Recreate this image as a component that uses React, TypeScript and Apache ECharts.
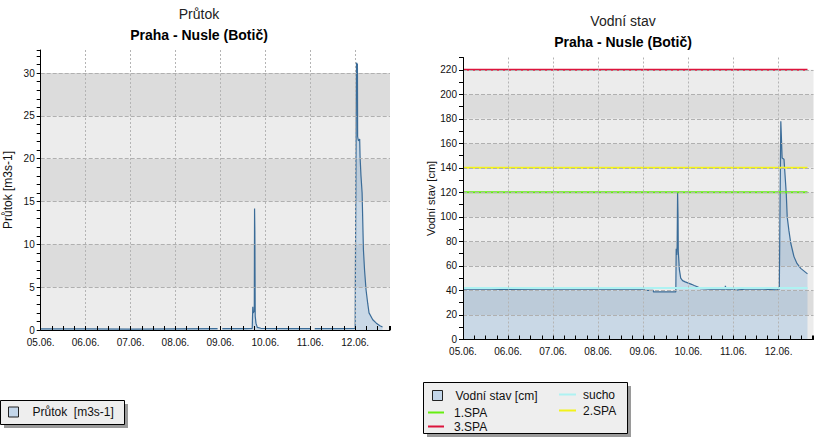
import React, { useEffect, useRef } from 'react';
import * as echarts from 'echarts';

// X axis: hours since 05.06. 00:00
const dayLabels = ['05.06.', '06.06.', '07.06.', '08.06.', '09.06.', '10.06.', '11.06.', '12.06.'];

const flowName = 'Průtok  [m3s-1]';
const flowHours = [0, 24, 48, 72, 94.5, 95, 97, 110, 113.0, 113.3, 113.5, 114.1, 114.25, 114.4, 114.6, 115.0, 115.7, 117.6, 132, 144.2, 145, 146.4, 160, 168, 168.15, 168.7, 169.2, 169.3, 169.7, 170.4, 170.6, 171.1, 171.7, 172.4, 173.0, 173.8, 174.7, 175.4, 177.4, 179.3, 181.2, 182.6];
const flowValues = [0.12, 0.12, 0.1, 0.12, 0.15, null, 0.15, 0.15, 0.2, 2.7, 2.0, 2.2, 14.2, 11.5, 1.6, 0.8, 0.3, 0.2, 0.15, 0.15, null, 0.15, 0.15, 0.2, 7.8, 31.2, 31.0, 22.6, 22.1, 22.3, 20.3, 18, 16.0, 9.4, 7.0, 4.7, 3.1, 2.0, 1.2, 0.8, 0.5, 0.35];

const stageName = 'Vodní stav [cm]';
const stageHours = [0, 10, 20, 40, 60, 80, 96, 97, 101.3, 101.4, 113.3, 113.5, 113.8, 114.0, 114.25, 114.5, 114.6, 115.0, 115.2, 115.9, 116.9, 118.3, 120, 121.7, 123.1, 124.8, 126.5, 132, 139.5, 139.7, 140, 144.5, 145, 146.5, 150, 160, 167, 168.4, 168.7, 169.2, 169.9, 170.9, 172.1, 172.6, 173.5, 174.5, 176.2, 177.8, 179.8, 183.4];
const stageValues = [41, 41.2, 40.8, 41, 41, 41.2, 41, 40, 40, 38.8, 38.8, 74, 69, 76, 120, 98, 72, 62, 57, 50, 48, 47, 46, 45, 44, 43, 41.5, 41, 41, 43.7, 41, 41, 40, 40.5, 41, 41, 40.5, 41, 95, 178, 148, 147, 119, 100, 89, 78.5, 67.6, 62, 58, 53.5];

const thresholdNames = ['sucho', '1.SPA', '2.SPA', '3.SPA'];
const thresholdValues = [42, 120, 140, 220];
const thresholdColors = ['#aef2f2', '#66ee11', '#f2f21a', '#dc143c'];

const flowBandEdges = [0, 5, 10, 15, 20, 25, 30];
const stageBandEdges = [0, 20, 40, 60, 80, 100, 120, 140, 160, 180, 200, 220];

const X_MAX = 186.6;
const FONT = "'Liberation Sans', Arial, sans-serif";
const FILL = 'rgba(70,140,210,0.3)';

function bands(edges: number[]) {
  return edges.slice(0, -1).map((lo, i) => [
    { yAxis: lo, itemStyle: { color: i % 2 ? '#dcdcdc' : '#ececec' } },
    { yAxis: edges[i + 1] },
  ]);
}

function xAxisCfg(gridIndex: number) {
  return {
    type: 'value',
    gridIndex,
    min: 0,
    max: X_MAX,
    interval: 24,
    z: 5,
    axisLine: { lineStyle: { color: '#000', width: 1 } },
    axisTick: { inside: true, length: 4, lineStyle: { color: '#000' } },
    minorTick: { show: true, splitNumber: 4, length: 4, lineStyle: { color: '#000' } },
    axisLabel: {
      margin: 7,
      fontSize: 10,
      color: '#111',
      fontFamily: FONT,
      showMaxLabel: false,
      formatter: (v: number) => (v % 24 === 0 ? dayLabels[v / 24] ?? '' : ''),
    },
    splitLine: { show: true, showMaxLine: false, showMinLine: false, lineStyle: { color: '#b4b4b4', type: [2, 2], width: 1 } },
  };
}

function yAxisCfg(gridIndex: number, max: number, interval: number, minor: number, name: string, nameSize: number) {
  return {
    type: 'value',
    gridIndex,
    min: 0,
    max,
    interval,
    z: 5,
    name,
    nameLocation: 'middle',
    nameGap: 27,
    nameTextStyle: { fontSize: nameSize, color: '#111', fontFamily: FONT },
    axisLine: { show: true, lineStyle: { color: '#000', width: 1 } },
    axisTick: { show: true, length: 4, lineStyle: { color: '#000' } },
    minorTick: { show: true, splitNumber: minor, length: 4, lineStyle: { color: '#000' } },
    axisLabel: {
      margin: 6,
      fontSize: 10,
      color: '#111',
      fontFamily: FONT,
      showMaxLabel: false,
      formatter: (v: number) => (v % interval === 0 ? String(v) : ''),
    },
    splitLine: { show: true, showMaxLine: false, showMinLine: false, lineStyle: { color: '#b0b0b0', type: [4, 2], width: 1 } },
  };
}

export default function App() {
  const ref = useRef<HTMLDivElement>(null);
  useEffect(() => {
    if (!ref.current) return;
    const chart = echarts.init(ref.current, null, { renderer: 'svg' });
    const lastStage = stageHours[stageHours.length - 1];
    const series: any[] = [
      {
        type: 'line', name: 'bands0', xAxisIndex: 0, yAxisIndex: 0, data: [], z: 1, silent: true,
        markArea: { silent: true, label: { show: false }, data: bands(flowBandEdges) },
      },
      {
        type: 'line', name: 'bands1', xAxisIndex: 1, yAxisIndex: 1, data: [], z: 1, silent: true,
        markArea: { silent: true, label: { show: false }, data: bands(stageBandEdges) },
      },
      {
        type: 'line', name: flowName, xAxisIndex: 0, yAxisIndex: 0, z: 2,
        data: flowHours.map((h, i) => [h, flowValues[i]]),
        showSymbol: false, symbol: 'none', connectNulls: false,
        itemStyle: { color: '#c3d6ea' },
        lineStyle: { color: '#3b6c98', width: 1.2 },
        areaStyle: { color: FILL, origin: 'start' },
      },
      {
        type: 'line', name: stageName, xAxisIndex: 1, yAxisIndex: 1, z: 2,
        data: stageHours.map((h, i) => [h, stageValues[i]]),
        showSymbol: false, symbol: 'none',
        itemStyle: { color: '#c3d6ea' },
        lineStyle: { color: '#3b6c98', width: 1.2 },
        areaStyle: { color: FILL, origin: 'start' },
      },
      ...thresholdNames.map((n, i) => ({
        type: 'line', name: n, xAxisIndex: 1, yAxisIndex: 1, z: 3,
        data: [[0, thresholdValues[i]], [lastStage, thresholdValues[i]]],
        showSymbol: false, symbol: 'none',
        itemStyle: { color: thresholdColors[i] },
        lineStyle: { color: thresholdColors[i], width: 2 },
      })),
    ];

    const legendText = { fontSize: 12, color: '#111', fontFamily: FONT };
    chart.setOption({
      animation: false,
      textStyle: { fontFamily: FONT },
      title: [
        {
          text: 'Průtok', subtext: 'Praha - Nusle (Botič)', left: 199, top: 7, padding: 0, itemGap: 7,
          textAlign: 'center',
          textStyle: { fontSize: 14, fontWeight: 'normal', color: '#222', fontFamily: FONT },
          subtextStyle: { fontSize: 14, fontWeight: 'bold', color: '#000', fontFamily: FONT },
        },
        {
          text: 'Vodní stav', subtext: 'Praha - Nusle (Botič)', left: 623, top: 14, padding: 0, itemGap: 7,
          textAlign: 'center',
          textStyle: { fontSize: 14, fontWeight: 'normal', color: '#222', fontFamily: FONT },
          subtextStyle: { fontSize: 14, fontWeight: 'bold', color: '#000', fontFamily: FONT },
        },
      ],
      grid: [
        { left: 40.7, top: 50, width: 349.3, height: 280, containLabel: false },
        { left: 463, top: 57.5, width: 350.5, height: 282, containLabel: false },
      ],
      xAxis: [xAxisCfg(0), xAxisCfg(1)],
      yAxis: [
        yAxisCfg(0, 32.7, 5, 5, 'Průtok [m3s-1]', 12),
        yAxisCfg(1, 230, 20, 2, 'Vodní stav [cm]', 11),
      ],
      legend: [
        {
          left: 8, top: 406, padding: 0, itemWidth: 10, itemHeight: 10,
          data: [{ name: flowName, icon: 'rect', itemStyle: { color: '#c3d6ea', borderColor: '#222', borderWidth: 1 } }],
          textStyle: { ...legendText, padding: [0, 0, 0, 9] },
        },
        {
          left: 432, top: 389.5, padding: 0, itemWidth: 10, itemHeight: 10,
          data: [{ name: stageName, icon: 'rect', itemStyle: { color: '#c3d6ea', borderColor: '#222', borderWidth: 1 } }],
          textStyle: { ...legendText, padding: [0, 0, 0, 8] },
        },
        {
          left: 428, top: 406.5, padding: 0, orient: 'vertical', itemGap: 2, itemWidth: 16, itemHeight: 2,
          icon: 'rect', itemStyle: { borderWidth: 0 },
          data: ['1.SPA', '3.SPA'],
          textStyle: { ...legendText, padding: [0, 0, 0, 5] },
        },
        {
          left: 559, top: 388.5, padding: 0, orient: 'vertical', itemGap: 4, itemWidth: 17, itemHeight: 2,
          icon: 'rect', itemStyle: { borderWidth: 0 },
          data: ['sucho', '2.SPA'],
          textStyle: { ...legendText, padding: [0, 0, 0, 2] },
        },
      ],
      graphic: [
        { type: 'rect', z: -2, shape: { x: 4, y: 404, width: 124, height: 24 }, style: { fill: '#9a9a9a' } },
        { type: 'rect', z: -1, shape: { x: 0.5, y: 400.5, width: 124, height: 24 }, style: { fill: '#eeeeee', stroke: '#000', lineWidth: 1 } },
        { type: 'rect', z: -2, shape: { x: 427, y: 386, width: 204, height: 51 }, style: { fill: '#9a9a9a' } },
        { type: 'rect', z: -1, shape: { x: 423.5, y: 382.5, width: 204, height: 51 }, style: { fill: '#eeeeee', stroke: '#000', lineWidth: 1 } },
      ],
      series,
    });
    return () => chart.dispose();
  }, []);
  return <div ref={ref} style={{ position: 'absolute', left: 0, top: 0, width: 825, height: 440 }} />;
}
